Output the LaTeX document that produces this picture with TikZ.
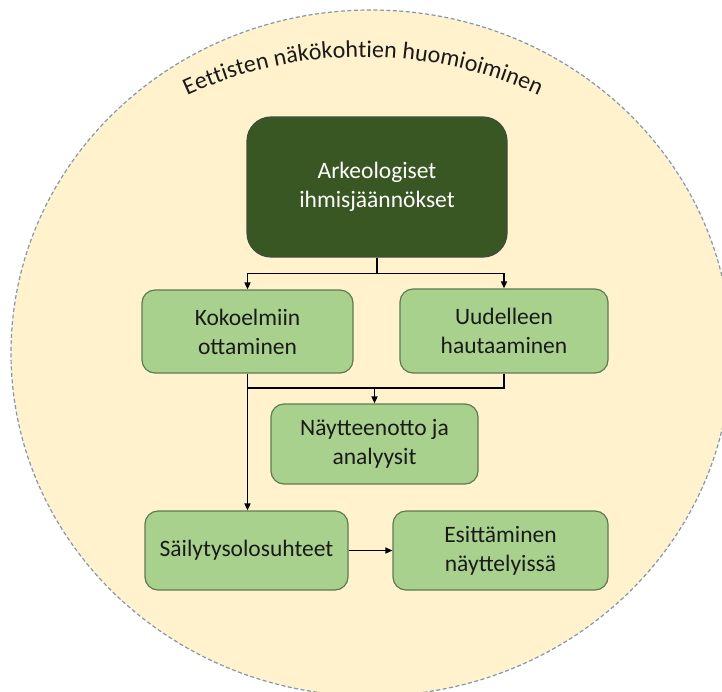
\documentclass[tikz,border=0pt]{standalone}
\usepackage{fontspec}
\setmainfont{Carlito}
\usetikzlibrary{arrows.meta,decorations.text}
\definecolor{cream}{HTML}{FFF2CC}
\definecolor{rimgray}{HTML}{8497B0}
\definecolor{leaf}{HTML}{A9D18E}
\definecolor{leafline}{HTML}{5F7A50}
\definecolor{forest}{HTML}{385723}
\definecolor{forestline}{HTML}{3F4F3A}
\definecolor{ink}{HTML}{1A1A1A}

\begin{document}
\begin{tikzpicture}[x=1pt,y=1pt,
		phase/.style={draw=leafline,line width=1.2pt,fill=leaf,rounded corners=13pt,
			text=ink,align=center,inner sep=0pt,font=\fontsize{23.5}{29}\selectfont},
		topbox/.style={phase,draw=forestline,fill=forest,text=white,rounded corners=24pt},
		link/.style={draw=black,line width=1.5pt},
		linkarrow/.style={link,-{Triangle[length=7pt,width=6pt]}}]
		\useasboundingbox (0,0) rectangle (722,-691);
		\clip (0,0) rectangle (722,-691);
		% outer circle
		\draw [rimgray,fill=cream,line width=1.2pt,dash pattern=on 4pt off 2.5pt] (371,-353) ellipse [x radius=360,y radius=343];
		\path [decorate,decoration={text along path,text align=center,
			text={|\fontsize{24}{28}\selectfont\color{ink}|Eettisten näkökohtien huomioiminen}}]
			(363,-478) ++(125:421) arc (125:55:421);
		% boxes
		\node [topbox,minimum width=260pt,minimum height=140pt] (arkeo) at (377,-187) {Arkeologiset\\ihmisjäännökset};
		\node [phase,minimum width=211pt,minimum height=83pt] (kokoelma) at (247.5,-331.5) {Kokoelmiin\\ottaminen};
		\node [phase,minimum width=208pt,minimum height=84pt] (uudelleen) at (504,-331) {Uudelleen\\hautaaminen};
		\node [phase,minimum width=207pt,minimum height=80pt] (naytteet) at (374.5,-444) {Näytteenotto ja\\analyysit};
		\node [phase,minimum width=203pt,minimum height=79pt] (sailytys) at (246.5,-550.5) {Säilytysolosuhteet};
		\node [phase,minimum width=215pt,minimum height=79pt] (esitys) at (500.5,-550.5) {Esittäminen\\näyttelyissä};
		% connectors
		\draw [link] (arkeo.south) -- ++(0,-16) coordinate (fork);
		\draw [linkarrow] (fork) -| (kokoelma.north);
		\draw [linkarrow] (fork) -| (uudelleen.north);
		\coordinate (merge) at (374.5,-388);
		\draw [link] (uudelleen.south) |- (merge) -- (merge -| kokoelma.south);
		\draw [linkarrow] (merge) -- (naytteet.north);
		\draw [linkarrow] (kokoelma.south) -- (kokoelma.south |- sailytys.north);
		\draw [linkarrow] (sailytys.east) -- (esitys.west);
\end{tikzpicture}
\end{document}
